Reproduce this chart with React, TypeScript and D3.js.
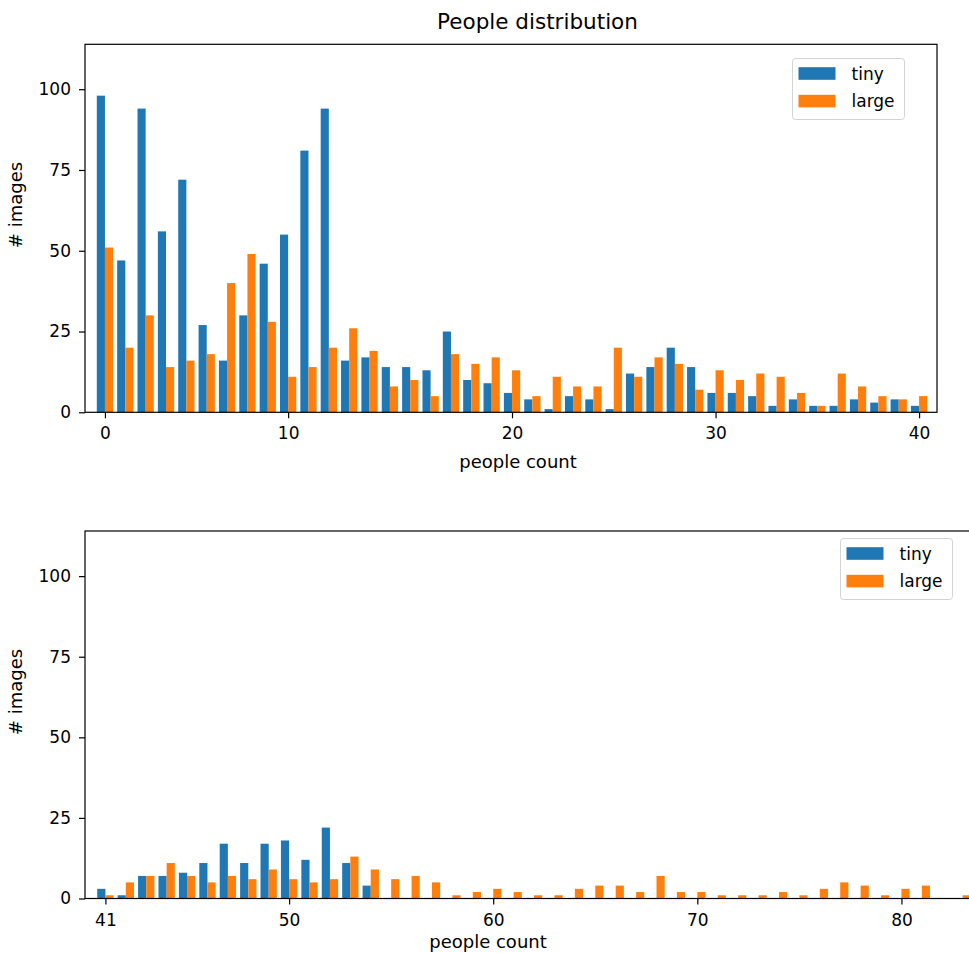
import React, { useRef, useEffect } from "react";
import * as d3 from "d3";

// top panel: bar slots 0..40, ticks sit on slots 0, 9, 20, 30, 40
const topSlots = [0, 1, 2, 3, 4, 5, 6, 7, 8, 9, 10, 11, 12, 13, 14, 15, 16, 17, 18, 19, 20,
  21, 22, 23, 24, 25, 26, 27, 28, 29, 30, 31, 32, 33, 34, 35, 36, 37, 38, 39, 40];
const topTiny = [98, 47, 94, 56, 72, 27, 16, 30, 46, 55, 81, 94, 16, 17, 14, 14, 13, 25, 10, 9, 6,
  4, 1, 5, 4, 1, 12, 14, 20, 14, 6, 6, 5, 2, 4, 2, 2, 4, 3, 4, 2];
const topLarge = [51, 20, 30, 14, 16, 18, 40, 49, 28, 11, 14, 20, 26, 19, 8, 10, 5, 18, 15, 17, 13,
  5, 11, 8, 8, 20, 11, 17, 15, 7, 13, 10, 12, 11, 6, 2, 12, 8, 5, 4, 5];
const topTickSlots = [0, 9, 20, 30, 40];
const topTickLabels = ["0", "10", "20", "30", "40"];

// bottom panel: people count 41..83
const bottomCounts = [41, 42, 43, 44, 45, 46, 47, 48, 49, 50, 51, 52, 53, 54, 55, 56, 57, 58, 59, 60, 61, 62,
  63, 64, 65, 66, 67, 68, 69, 70, 71, 72, 73, 74, 75, 76, 77, 78, 79, 80, 81, 82, 83];
const bottomTiny = [3, 1, 7, 7, 8, 11, 17, 11, 17, 18, 12, 22, 11, 4, 0, 0, 0, 0, 0, 0, 0, 0,
  0, 0, 0, 0, 0, 0, 0, 0, 0, 0, 0, 0, 0, 0, 0, 0, 0, 0, 0, 0, 0];
const bottomLarge = [1, 5, 7, 11, 7, 5, 7, 6, 9, 6, 5, 6, 13, 9, 6, 7, 5, 1, 2, 3, 2, 1,
  1, 3, 4, 4, 2, 7, 2, 2, 1, 1, 1, 2, 1, 3, 5, 4, 1, 3, 4, 0, 1];
const bottomTicks = [41, 50, 60, 70, 80];

const yTicks = [0, 25, 50, 75, 100];
const seriesNames = ["tiny", "large"];
const colors = ["#1f77b4", "#ff7f0e"];

const FONT = "DejaVu Sans, sans-serif";
const BAR = 0.4;

function drawPanel(svg, p) {
  const { x, y, cats, tiny, large } = p;
  const g = svg.append("g");
  const [x0, x1] = x.range();
  const [yb, yt] = y.range();

  const series = [tiny, large];
  series.forEach((vals, si) => {
    g.append("g")
      .selectAll("rect")
      .data(cats.map((c, i) => ({ c, v: vals[i] })))
      .join("rect")
      .attr("x", d => (si === 0 ? x(d.c - BAR) : x(d.c)))
      .attr("width", x(BAR) - x(0))
      .attr("y", d => y(d.v))
      .attr("height", d => y(0) - y(d.v))
      .attr("fill", colors[si]);
  });

  // x axis
  const xa = g.append("g")
    .attr("transform", `translate(0,${yb})`)
    .call(d3.axisBottom(x).tickValues(p.tickVals).tickFormat((d, i) => p.tickLabels[i])
      .tickSize(6).tickSizeOuter(0).tickPadding(9));
  xa.select(".domain").remove();
  xa.selectAll("line").attr("stroke", "#000").attr("stroke-width", 1.2);
  xa.selectAll("text").attr("font-family", FONT).attr("font-size", 17).attr("fill", "#000");

  // y axis
  const ya = g.append("g")
    .attr("transform", `translate(${x0},0)`)
    .call(d3.axisLeft(y).tickValues(yTicks).tickSize(6).tickSizeOuter(0).tickPadding(8));
  ya.select(".domain").remove();
  ya.selectAll("line").attr("stroke", "#000").attr("stroke-width", 1.2);
  ya.selectAll("text").attr("font-family", FONT).attr("font-size", 17).attr("fill", "#000");

  // spines
  g.append("rect")
    .attr("x", x0).attr("y", yt)
    .attr("width", x1 - x0).attr("height", yb - yt)
    .attr("fill", "none").attr("stroke", "#000").attr("stroke-width", 1.2);

  g.append("text")
    .attr("x", p.xLabelX).attr("y", p.xLabelY)
    .attr("text-anchor", "middle")
    .attr("font-family", FONT).attr("font-size", 18)
    .text("people count");

  g.append("text")
    .attr("transform", `translate(${p.yLabelX},${p.yLabelY}) rotate(-90)`)
    .attr("text-anchor", "middle")
    .attr("font-family", FONT).attr("font-size", 18)
    .text("# images");

  // legend
  const lg = g.append("g").attr("transform", `translate(${p.legendX},${p.legendY})`);
  lg.append("rect")
    .attr("width", 112).attr("height", 61).attr("rx", 3)
    .attr("fill", "#fff").attr("fill-opacity", 0.8)
    .attr("stroke", "#d3d3d3").attr("stroke-width", 1);
  seriesNames.forEach((name, i) => {
    lg.append("rect")
      .attr("x", 6).attr("y", 8.7 + i * 27.6)
      .attr("width", 37).attr("height", 12.6)
      .attr("fill", colors[i]);
    lg.append("text")
      .attr("x", 59).attr("y", 21.3 + i * 27.4)
      .attr("font-family", FONT).attr("font-size", 17)
      .text(name);
  });
}

export default function App() {
  const ref = useRef(null);

  useEffect(() => {
    const svg = d3.select(ref.current);
    svg.selectAll("*").remove();

    svg.append("text")
      .attr("x", 537.5).attr("y", 29)
      .attr("text-anchor", "middle")
      .attr("font-family", FONT).attr("font-size", 21.5)
      .text("People distribution");

    drawPanel(svg, {
      x: d3.scaleLinear().domain([-0.98, 40.88]).range([85, 937]),
      y: d3.scaleLinear().domain([0, 113.9]).range([412.3, 44.3]),
      cats: topSlots, tiny: topTiny, large: topLarge,
      tickVals: topTickSlots, tickLabels: topTickLabels,
      xLabelX: 518, xLabelY: 468,
      yLabelX: 22, yLabelY: 205,
      legendX: 792.5, legendY: 58.5,
    });

    drawPanel(svg, {
      x: d3.scaleLinear().domain([40, 85]).range([85, 1003.5]),
      y: d3.scaleLinear().domain([0, 114]).range([898.5, 531]),
      cats: bottomCounts, tiny: bottomTiny, large: bottomLarge,
      tickVals: bottomTicks, tickLabels: bottomTicks.map(String),
      xLabelX: 488, xLabelY: 948,
      yLabelX: 22, yLabelY: 692,
      legendX: 840.5, legendY: 538.5,
    });
  }, []);

  return (
    <div style={{ position: "fixed", left: 0, top: 0, width: 969, height: 953, overflow: "hidden", background: "#fff" }}>
      <svg ref={ref} width={969} height={953} style={{ display: "block" }}></svg>
    </div>
  );
}
